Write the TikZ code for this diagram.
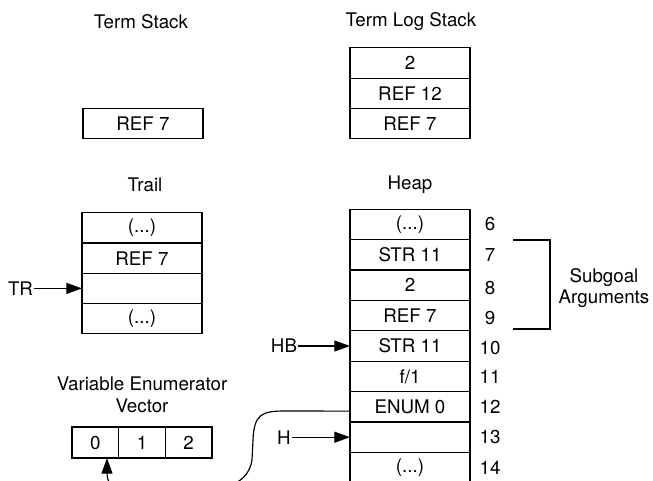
\documentclass[tikz,border=0pt]{standalone}
\usepackage{fontspec}
\setmainfont{TeX Gyre Heros}
\usepackage{tikz}
\usetikzlibrary{arrows.meta}

\begin{document}
\begin{tikzpicture}[x=0.03cm, y=-0.03cm]
    \tikzset{
        every node/.style={font=\fontsize{16}{18.7}\selectfont},
        cell/.style={
                draw, line width=1pt,
                minimum width=3.6cm, minimum height=0.912cm,
                inner sep=0pt, outer sep=0pt
            },
        slot/.style={cell, minimum width=1.4cm, minimum height=0.93cm},
        caption/.style={align=center},
        register/.style={inner sep=1pt},
        pointer/.style={-{Triangle[length=0.47cm, width=0.33cm]}, line width=1pt}
    }

    \useasboundingbox (0,0) rectangle (653,480);
    \clip (0,0) rectangle (653,480);

    % --- Term Stack ---
    \node[caption] (tstitle) at (141, 22) {Term Stack};
    \node[cell] (ts1) at (143, 123.5) {REF 7};

    % --- Term Log Stack ---
    \node[caption] (tltitle) at (411, 22) {Term Log Stack};
    \node[cell] (tl1) at (410, 63) {2};
    \node[cell] (tl2) at (410, 93.3) {REF 12};
    \node[cell] (tl3) at (410, 123.6) {REF 7};

    % --- Trail ---
    \node[caption] (trtitle) at (145, 185) {Trail};
    \node[cell] (tr1) at (142, 228) {(...)};
    \node[cell] (tr2) at (142, 258.2) {REF 7};
    \node[cell] (tr3) at (142, 288.4) {};
    \node[cell] (tr4) at (142, 318.6) {(...)};
    \node[register] (TR) at (20.5, 288.4) {TR};
    \draw[pointer] (TR.east) -- (tr3.west);

    % --- Heap ---
    \node[caption] (htitle) at (410, 185) {Heap};
    \node[cell] (h6) at (410, 224.4) {(...)};
    \node[cell] (h7) at (410, 254.8) {STR 11};
    \node[cell] (h8) at (410, 285.2) {2};
    \node[cell] (h9) at (410, 315.6) {REF 7};
    \node[cell] (h10) at (410, 346) {STR 11};
    \node[cell] (h11) at (410, 376.4) {f/1};
    \node[cell] (h12) at (410, 406.8) {ENUM 0};
    \node[cell] (h13) at (410, 437.2) {};
    \node[cell] (h14) at (410, 467.6) {(...)};

    % addresses
    \node (a6) at (490, 224.4) {6};
    \node (a7) at (490, 254.8) {7};
    \node (a8) at (490, 287.5) {8};
    \node (a9) at (490, 317.5) {9};
    \node (a10) at (490, 348) {10};
    \node (a11) at (490, 376.4) {11};
    \node (a12) at (490, 406.8) {12};
    \node (a13) at (490, 437.2) {13};
    \node (a14) at (490, 467.6) {14};

    \node[register] (HB) at (284, 346) {HB};
    \draw[pointer] (HB.east) -- (h10.west);
    \node[register] (H) at (284, 437.2) {H};
    \draw[pointer] (H.east) -- (h13.west);

    % bracket round the subgoal arguments
    \draw[line width=1pt] (513, 240) -- (550, 240) -- (550, 329) -- (513, 329);
    \node[caption] (subgoal) at (604, 288) {Subgoal\\Arguments};

    % --- Variable Enumerator Vector ---
    \node[caption] (vtitle) at (142, 395) {Variable Enumerator\\Vector};
    \node[slot] (v0) at (95.3, 442.5) {0};
    \node[slot] (v1) at (142, 442.5) {1};
    \node[slot] (v2) at (188.7, 442.5) {2};

    % ENUM 0 points back into the vector
    \draw[pointer] ([yshift=-0.13cm]h12.west) -- (285, 411)
        .. controls (262, 411) and (254, 414) .. (253, 440) -- (252, 460)
        .. controls (250, 474) and (240, 484) .. (225, 486) -- (120, 486)
        .. controls (110, 486) and (107, 482) .. (107, 472)
        -- ([xshift=0.35cm]v0.south);
\end{tikzpicture}
\end{document}
